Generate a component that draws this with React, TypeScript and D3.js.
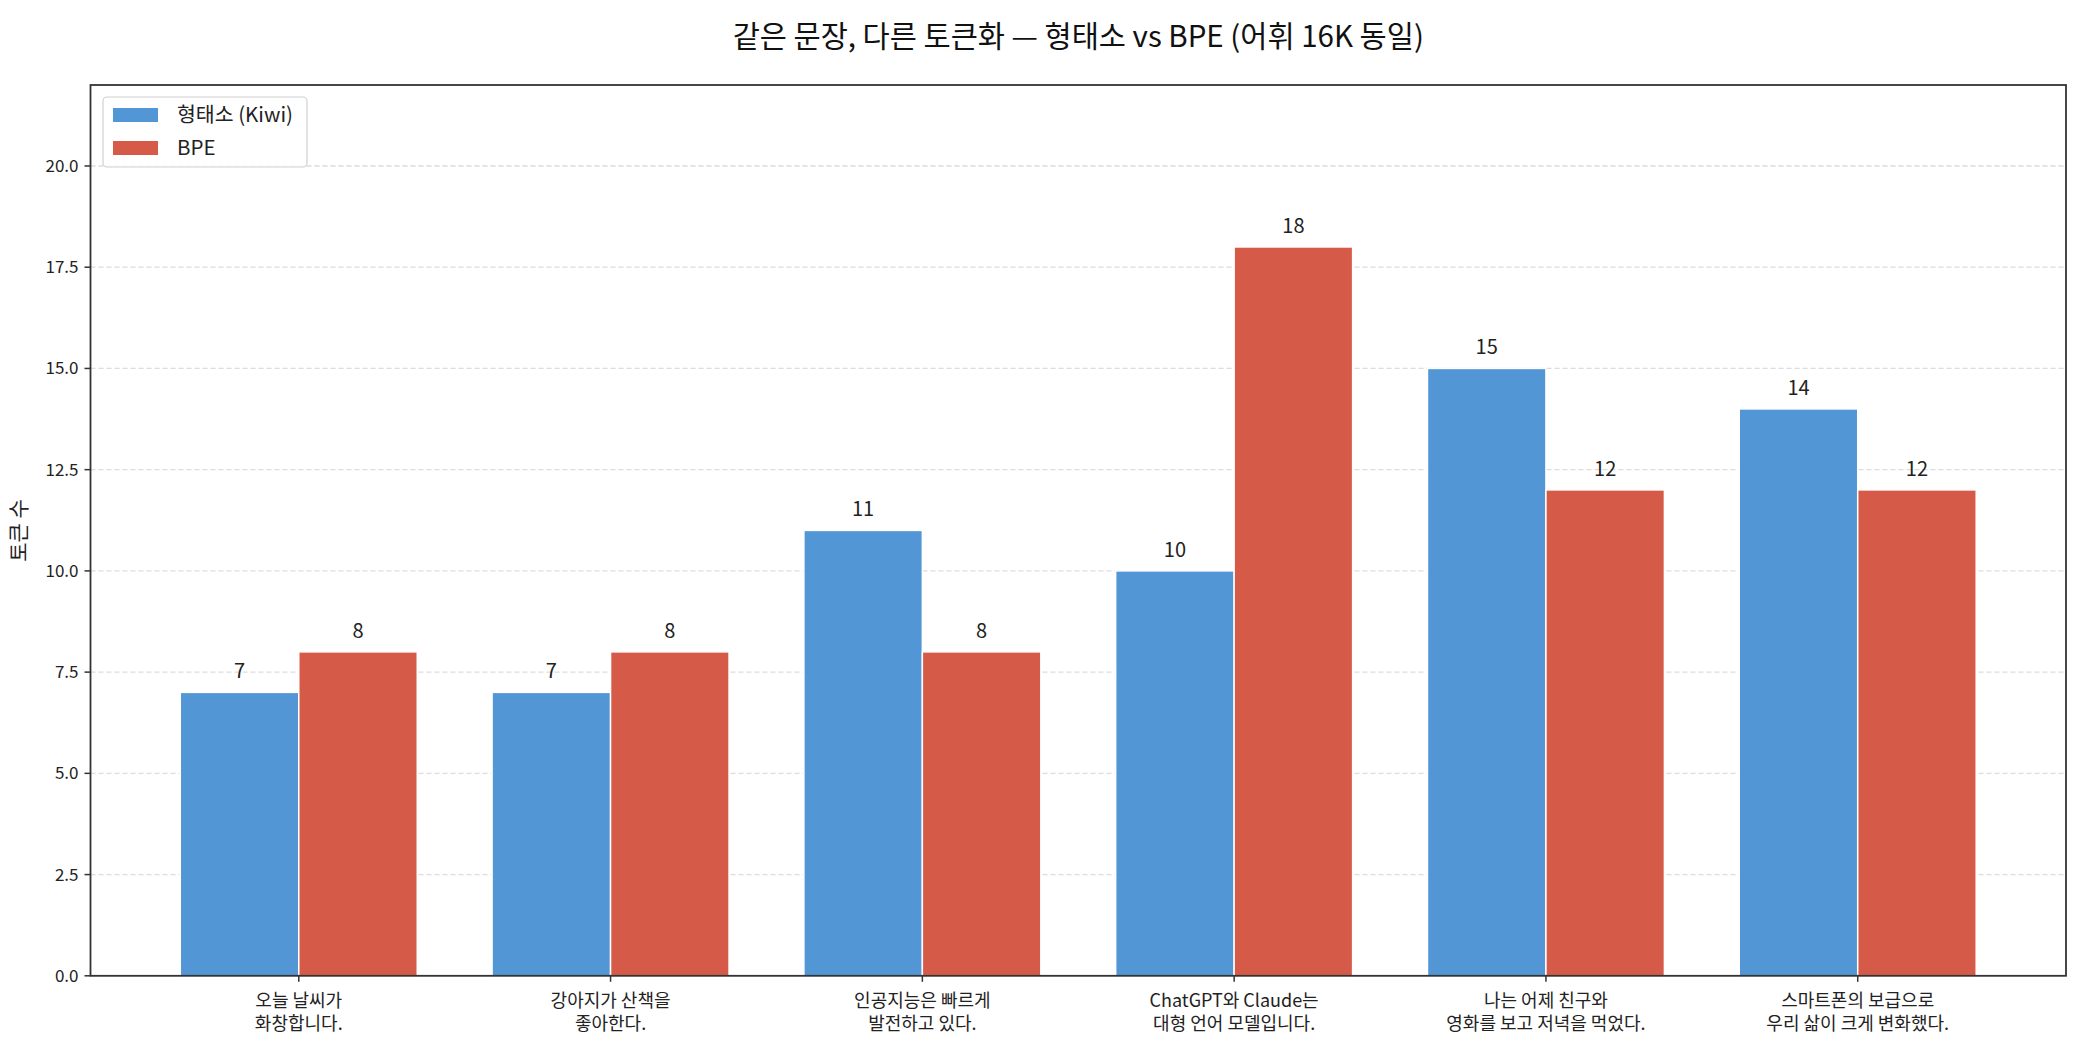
import React from "react";
import * as d3 from "d3";

const categories: string[][] = [
  ["오늘 날씨가", "화창합니다."],
  ["강아지가 산책을", "좋아한다."],
  ["인공지능은 빠르게", "발전하고 있다."],
  ["ChatGPT와 Claude는", "대형 언어 모델입니다."],
  ["나는 어제 친구와", "영화를 보고 저녁을 먹었다."],
  ["스마트폰의 보급으로", "우리 삶이 크게 변화했다."],
];
const morphValues: number[] = [7, 7, 11, 10, 15, 14];
const bpeValues: number[] = [8, 8, 8, 18, 12, 12];
const seriesNames: string[] = ["형태소 (Kiwi)", "BPE"];
const seriesColors: string[] = ["#5296d5", "#d65a48"];
const yTicks: number[] = [0, 2.5, 5, 7.5, 10, 12.5, 15, 17.5, 20];
const title = "같은 문장, 다른 토큰화 — 형태소 vs BPE (어휘 16K 동일)";
const yLabel = "토큰 수";

const W = 2086;
const H = 1052;
const FONT = "'Noto Sans CJK KR', 'Noto Sans', sans-serif";

export default function App() {
  const left = 90.5, right = 2066, top = 85, bottom = 975.8;
  const barW = 0.38;
  const x = d3.scaleLinear().domain([-0.668, 5.668]).range([left, right]);
  const y = d3.scaleLinear().domain([0, 22]).range([bottom, top]);
  const series = [morphValues, bpeValues];
  const offsets = [-barW / 2, barW / 2];

  return (
    <svg
      width={W}
      height={H}
      style={{ position: "absolute", left: 0, top: 0, background: "#fff" }}
      fontFamily={FONT}
    >
      <rect x={0} y={0} width={W} height={H} fill="#fff" />
      {/* grid */}
      {yTicks.map((t) => (
        <line
          key={"g" + t}
          x1={left}
          x2={right}
          y1={y(t)}
          y2={y(t)}
          stroke="#dcdcdc"
          strokeWidth={1.3}
          strokeDasharray="5,3"
        />
      ))}
      {/* bars */}
      {series.map((vals, si) =>
        vals.map((v, i) => {
          const x0 = x(i + offsets[si] - barW / 2);
          const x1 = x(i + offsets[si] + barW / 2);
          return (
            <rect
              key={`b${si}-${i}`}
              x={x0}
              y={y(v)}
              width={x1 - x0}
              height={y(0) - y(v)}
              fill={seriesColors[si]}
              stroke="#fff"
              strokeWidth={1.5}
            />
          );
        })
      )}
      {/* value labels */}
      {series.map((vals, si) =>
        vals.map((v, i) => (
          <text
            key={`l${si}-${i}`}
            x={x(i + offsets[si])}
            y={y(v) - 14}
            textAnchor="middle"
            fontSize={20}
            fill="#222"
          >
            {v}
          </text>
        ))
      )}
      {/* frame */}
      <rect
        x={left}
        y={top}
        width={right - left}
        height={bottom - top}
        fill="none"
        stroke="#333"
        strokeWidth={1.8}
      />
      {/* y ticks */}
      {yTicks.map((t) => (
        <g key={"yt" + t}>
          <line x1={left - 6} x2={left} y1={y(t)} y2={y(t)} stroke="#333" strokeWidth={1.5} />
          <text x={left - 12} y={y(t)} dy="0.35em" textAnchor="end" fontSize={17} fill="#222">
            {d3.format(".1f")(t)}
          </text>
        </g>
      ))}
      {/* x ticks */}
      {categories.map((lines, i) => (
        <g key={"xt" + i}>
          <line x1={x(i)} x2={x(i)} y1={bottom} y2={bottom + 6} stroke="#333" strokeWidth={1.5} />
          {lines.map((ln, k) => (
            <text
              key={k}
              x={x(i)}
              y={bottom + 31 + k * 23}
              textAnchor="middle"
              fontSize={18}
              fill="#222"
            >
              {ln}
            </text>
          ))}
        </g>
      ))}
      {/* y label */}
      <text
        transform={`translate(26,${(top + bottom) / 2}) rotate(-90)`}
        textAnchor="middle"
        fontSize={21}
        fill="#222"
      >
        {yLabel}
      </text>
      {/* title */}
      <text x={(left + right) / 2} y={47} textAnchor="middle" fontSize={29.5} fill="#111">
        {title}
      </text>
      {/* legend */}
      <g>
        <rect x={103} y={97} width={204} height={70} rx={4} fill="#fff" fillOpacity={0.8} stroke="#d0d0d0" strokeWidth={1.2} />
        {seriesNames.map((name, k) => (
          <g key={"lg" + k}>
            <rect x={113} y={108 + k * 33} width={45} height={14} fill={seriesColors[k]} />
            <text x={177} y={115 + k * 33} dy="0.35em" fontSize={20.5} fill="#222">
              {name}
            </text>
          </g>
        ))}
      </g>
    </svg>
  );
}
